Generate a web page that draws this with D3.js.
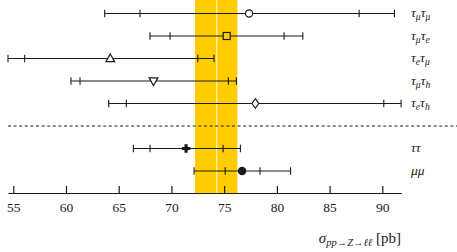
<!DOCTYPE html>
<html><head><meta charset="utf-8">
<script src="https://cdn.jsdelivr.net/npm/d3@7/dist/d3.min.js"></script>
<style>body{margin:0;background:#fff}svg{display:block}</style>
</head><body><svg id="c" width="457" height="252"></svg>
<script>
const labelMain = [["τ","τ"],["τ","τ"],["τ","τ"],["τ","τ"],["τ","τ"],null,["τ","τ"],["μ","μ"]];
const labelSub = [["μ","μ"],["μ","e"],["e","μ"],["μ","h"],["e","h"],null,["",""],["",""]];
const rowIndex = [0,1,2,3,4,6,7];
const centers = [77.36, 75.24, 64.2, 68.3, 77.96, 71.39, 76.7];
const outerLo = [63.67, 67.97, 54.5, 60.47, 64.05, 66.39, 72.15];
const innerLo = [67.02, 69.87, 56.08, 61.33, 65.72, 67.97, 75.1];
const innerHi = [87.8, 80.68, 72.5, 75.4, 90.14, 74.9, 78.4];
const outerHi = [91.15, 82.46, 74.04, 76.16, 91.78, 76.54, 81.3];
const markers = ["circle","square","triangle-up","triangle-down","diamond","plus","dot"];
const bandRange = [72.24, 76.25];
const bandCenter = 74.3;
const xTicks = [55,60,65,70,75,80,85,90];

const svg = d3.select("#c");
const x = d3.scaleLinear().domain([54.5, 91.8]).range([8, 401.3]);
const y = d3.scaleLinear().domain([0, 1]).range([13.5, 36]);
const axisY = 193;
const bandColor = "#ffcc00";
const ink = "#1a1a1a";
const serif = "'Liberation Serif', serif";

svg.append("rect").attr("x", x(bandRange[0])).attr("y", 0)
  .attr("width", x(bandRange[1]) - x(bandRange[0])).attr("height", axisY)
  .attr("fill", bandColor);
svg.append("line").attr("x1", x(bandCenter)).attr("x2", x(bandCenter))
  .attr("y1", 0).attr("y2", axisY).attr("stroke", "#fff3a8").attr("stroke-width", 1.3);

svg.append("line").attr("x1", 8).attr("x2", 457).attr("y1", y(5)).attr("y2", y(5))
  .attr("stroke", ink).attr("stroke-width", 1).attr("stroke-dasharray", "3,2.6");

const axis = d3.axisBottom(x).tickValues(xTicks).tickSizeInner(-7).tickSizeOuter(0).tickPadding(14);
const ag = svg.append("g").attr("transform", `translate(0,${axisY})`).call(axis);
ag.attr("font-family", null);
ag.select(".domain").attr("stroke", ink).attr("stroke-width", 1.2);
ag.selectAll(".tick line").attr("stroke", ink).attr("stroke-width", 1.2);
ag.selectAll(".tick text").style("font-family", serif).attr("font-size", 13.5)
  .attr("fill", ink).attr("dy", "0.35em");

const cap = 3.8;
rowIndex.forEach((ri, i) => {
  const yy = y(ri);
  const g = svg.append("g");
  g.append("line").attr("x1", x(outerLo[i])).attr("x2", x(outerHi[i])).attr("y1", yy).attr("y2", yy)
    .attr("stroke", ink).attr("stroke-width", 1.1);
  [outerLo[i], innerLo[i], innerHi[i], outerHi[i]].forEach(v => {
    g.append("line").attr("x1", x(v)).attr("x2", x(v)).attr("y1", yy - cap).attr("y2", yy + cap)
      .attr("stroke", ink).attr("stroke-width", 1.1);
  });
  const cx = x(centers[i]);
  const inBand = centers[i] > bandRange[0] && centers[i] < bandRange[1];
  const fill = inBand ? bandColor : "#fff";
  const m = markers[i];
  if (m === "circle") g.append("circle").attr("cx", cx).attr("cy", yy).attr("r", 3.6).attr("fill", fill).attr("stroke", ink).attr("stroke-width", 1.2);
  else if (m === "square") g.append("rect").attr("x", cx - 3.5).attr("y", yy - 3.5).attr("width", 7).attr("height", 7).attr("fill", fill).attr("stroke", ink).attr("stroke-width", 1.2);
  else if (m === "triangle-up") g.append("path").attr("d", `M${cx},${yy-4.5}L${cx+4.4},${yy+3.2}L${cx-4.4},${yy+3.2}Z`).attr("fill", fill).attr("stroke", ink).attr("stroke-width", 1.2);
  else if (m === "triangle-down") g.append("path").attr("d", `M${cx},${yy+4.5}L${cx+4.4},${yy-3.2}L${cx-4.4},${yy-3.2}Z`).attr("fill", fill).attr("stroke", ink).attr("stroke-width", 1.2);
  else if (m === "diamond") g.append("path").attr("d", `M${cx},${yy-4.8}L${cx+3.4},${yy}L${cx},${yy+4.8}L${cx-3.4},${yy}Z`).attr("fill", fill).attr("stroke", ink).attr("stroke-width", 1.2);
  else if (m === "plus") g.append("path").attr("d", `M${cx-1.6},${yy-4.2}h3.2v2.6h2.6v3.2h-2.6v2.6h-3.2v-2.6h-2.6v-3.2h2.6Z`).attr("fill", ink);
  else if (m === "dot") g.append("circle").attr("cx", cx).attr("cy", yy).attr("r", 4.2).attr("fill", ink);
});

const labelX = 411;
labelMain.forEach((mainPair, ri) => {
  if (mainPair === null) return;
  const subPair = labelSub[ri];
  const t = svg.append("text").attr("x", labelX).attr("y", y(ri) + 3.8)
    .style("font-family", serif).attr("font-style", "italic")
    .attr("font-size", 13.5).attr("fill", ink);
  let shift = 0;
  for (let k = 0; k < 2; k++) {
    t.append("tspan").text(mainPair[k]).attr("dy", -shift);
    shift = 0;
    if (subPair[k]) {
      t.append("tspan").text(subPair[k]).attr("font-size", 9.5).attr("dy", 3);
      shift = 3;
    }
  }
});

const tt = svg.append("text").attr("x", 401).attr("y", 243).attr("text-anchor", "end")
  .style("font-family", serif).attr("font-size", 15).attr("fill", ink);
tt.append("tspan").text("σ").attr("font-style", "italic");
tt.append("tspan").text("pp→Z→ℓℓ").attr("font-style", "italic").attr("font-size", 10.5).attr("dy", 3);
tt.append("tspan").text(" [pb]").attr("dy", -3);
</script></body></html>
